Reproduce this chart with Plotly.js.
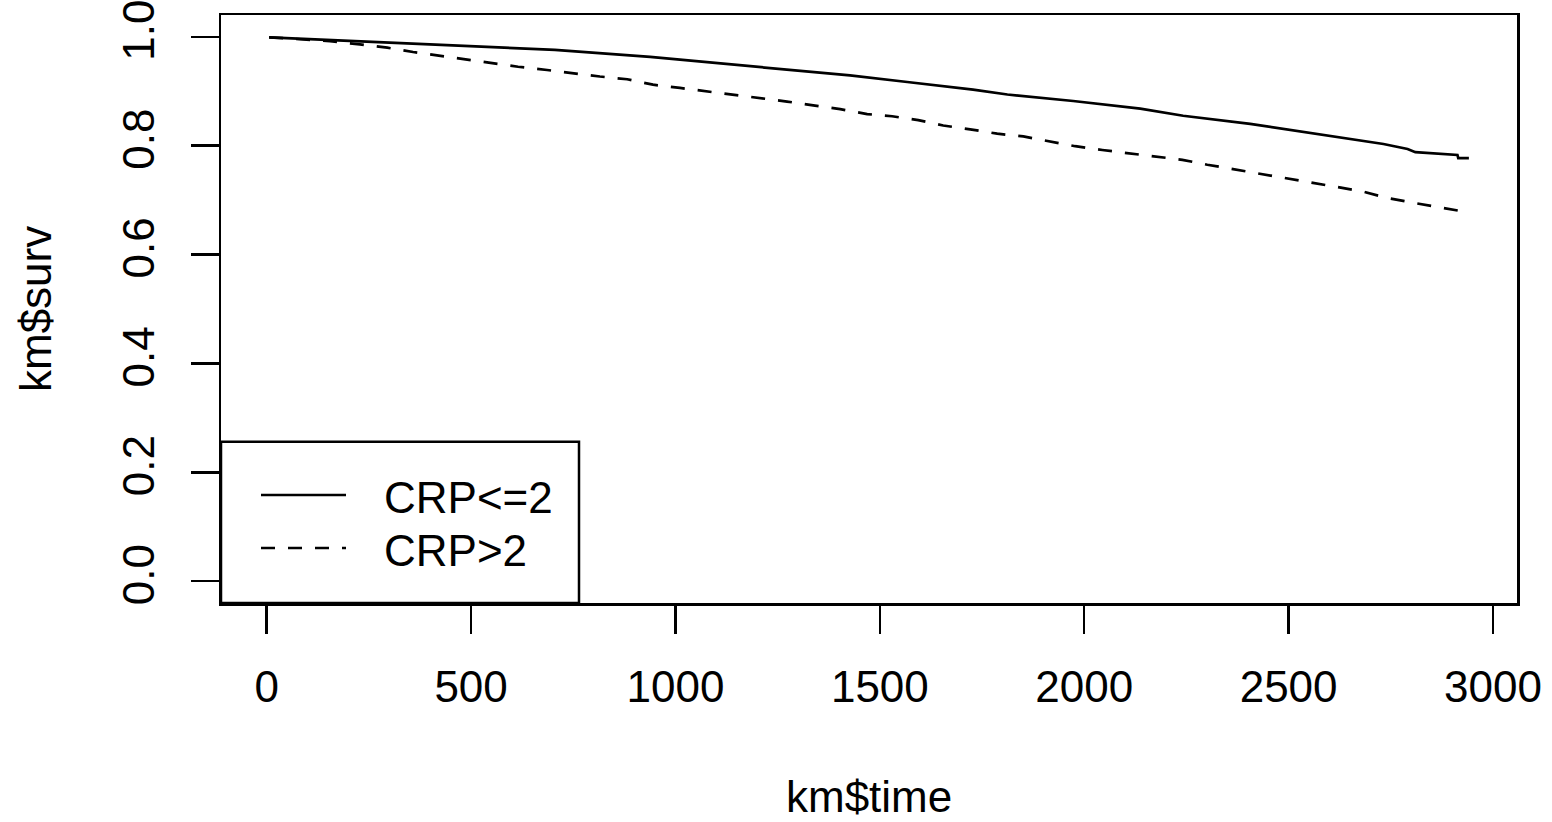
<!DOCTYPE html>
<html>
<head>
<meta charset="utf-8">
<script src="https://cdn.plot.ly/plotly-3.0.1.min.js"></script>
<style>html,body{margin:0;padding:0;background:#fff;}#chart{width:1552px;height:822px;}</style>
</head>
<body>
<div id="chart"></div>
<script>
// Kaplan-Meier survival estimates
const timeLow = [6, 228, 473, 705, 938, 1183, 1427, 1567, 1728, 1812, 1973, 2137, 2242, 2406, 2570, 2732, 2791, 2810, 2913, 2915, 2941];
const survLow = [0.999, 0.992, 0.984, 0.976, 0.963, 0.946, 0.929, 0.917, 0.903, 0.894, 0.882, 0.868, 0.855, 0.840, 0.822, 0.803, 0.794, 0.788, 0.783, 0.777, 0.777];

const timeHigh = [6, 155, 228, 295, 358, 424, 485, 551, 615, 686, 750, 815, 882, 945, 1011, 1075, 1141, 1207, 1273, 1337, 1403, 1469, 1530, 1594, 1655, 1721, 1787, 1851, 1912, 1978, 2044, 2105, 2169, 2240, 2301, 2365, 2426, 2492, 2553, 2619, 2680, 2741, 2805, 2864, 2928, 2941];
const survHigh = [0.999, 0.992, 0.986, 0.980, 0.972, 0.965, 0.958, 0.951, 0.945, 0.939, 0.933, 0.927, 0.922, 0.912, 0.906, 0.900, 0.894, 0.888, 0.881, 0.874, 0.867, 0.858, 0.854, 0.847, 0.837, 0.830, 0.822, 0.817, 0.808, 0.799, 0.792, 0.786, 0.781, 0.774, 0.765, 0.757, 0.748, 0.741, 0.733, 0.724, 0.716, 0.704, 0.695, 0.687, 0.679, 0.679];

const seriesNames = ["CRP<=2", "CRP>2"];
const xTicks = [0, 500, 1000, 1500, 2000, 2500, 3000];
const yTicks = [0, 0.2, 0.4, 0.6, 0.8, 1.0];
const yTickText = ["0.0", "0.2", "0.4", "0.6", "0.8", "1.0"];
const xTitle = "km$time";
const yTitle = "km$surv";

const FONT = "Liberation Sans, Arial, Helvetica, sans-serif";
const FS = 44;
const DASH = "14px,13px";

const traces = [
  {x: timeLow, y: survLow, name: seriesNames[0], type: "scatter", mode: "lines",
   line: {color: "#000", width: 2.7}, hoverinfo: "skip"},
  {x: timeHigh, y: survHigh, name: seriesNames[1], type: "scatter", mode: "lines",
   line: {color: "#000", width: 2.7, dash: DASH}, hoverinfo: "skip"}
];

// plot area in pixels: x 221..1517, y 15..603
const L = 221, R = 1517, T = 15, B = 603;
const px2x = p => (p - L) / (R - L);
const py2y = p => (B - p) / (B - T);

const axisCommon = {
  ticks: "outside", ticklen: 28, tickwidth: 2.5, tickcolor: "#000",
  showline: true, mirror: true, linecolor: "#000", linewidth: 2.5,
  showgrid: false, zeroline: false, ticklabeloverflow: "allow",
  tickfont: {family: FONT, size: FS, color: "#000"}
};

const layout = {
  width: 1552, height: 822,
  margin: {l: L, r: 1552 - R, t: T, b: 822 - B, pad: 0},
  paper_bgcolor: "#fff", plot_bgcolor: "#fff",
  showlegend: false,
  font: {family: FONT, color: "#000"},
  xaxis: Object.assign({}, axisCommon, {
    range: [-111.8, 3058.7], tickmode: "array", tickvals: xTicks,
    ticktext: xTicks.map(String), ticklabelstandoff: 16
  }),
  yaxis: Object.assign({}, axisCommon, {
    range: [-0.04, 1.04], tickmode: "array", tickvals: yTicks,
    ticktext: yTickText, tickangle: -90, ticklabelstandoff: 19
  }),
  shapes: [
    {type: "rect", xref: "paper", yref: "paper", x0: 0, x1: px2x(579), y0: 0, y1: py2y(441.7),
     line: {color: "#000", width: 2.5}, fillcolor: "rgba(0,0,0,0)"},
    {type: "line", xref: "paper", yref: "paper", x0: px2x(261), x1: px2x(346), y0: py2y(495), y1: py2y(495),
     line: {color: "#000", width: 2.7}},
    {type: "line", xref: "paper", yref: "paper", x0: px2x(261), x1: px2x(346), y0: py2y(548), y1: py2y(548),
     line: {color: "#000", width: 2.7, dash: DASH}}
  ],
  annotations: [
    {xref: "paper", yref: "paper", x: px2x(382), y: py2y(497), xanchor: "left", yanchor: "middle",
     text: seriesNames[0], showarrow: false, font: {family: FONT, size: FS, color: "#000"}},
    {xref: "paper", yref: "paper", x: px2x(382), y: py2y(550), xanchor: "left", yanchor: "middle",
     text: seriesNames[1], showarrow: false, font: {family: FONT, size: FS, color: "#000"}},
    {xref: "paper", yref: "paper", x: 0.5, y: py2y(796), xanchor: "center", yanchor: "middle",
     text: xTitle, showarrow: false, font: {family: FONT, size: FS, color: "#000"}},
    {xref: "paper", yref: "paper", x: px2x(35), y: 0.5, xanchor: "center", yanchor: "middle",
     text: yTitle, textangle: -90, showarrow: false, font: {family: FONT, size: FS, color: "#000"}}
  ]
};

Plotly.newPlot("chart", traces, layout, {staticPlot: true, displayModeBar: false});
</script>
</body>
</html>
